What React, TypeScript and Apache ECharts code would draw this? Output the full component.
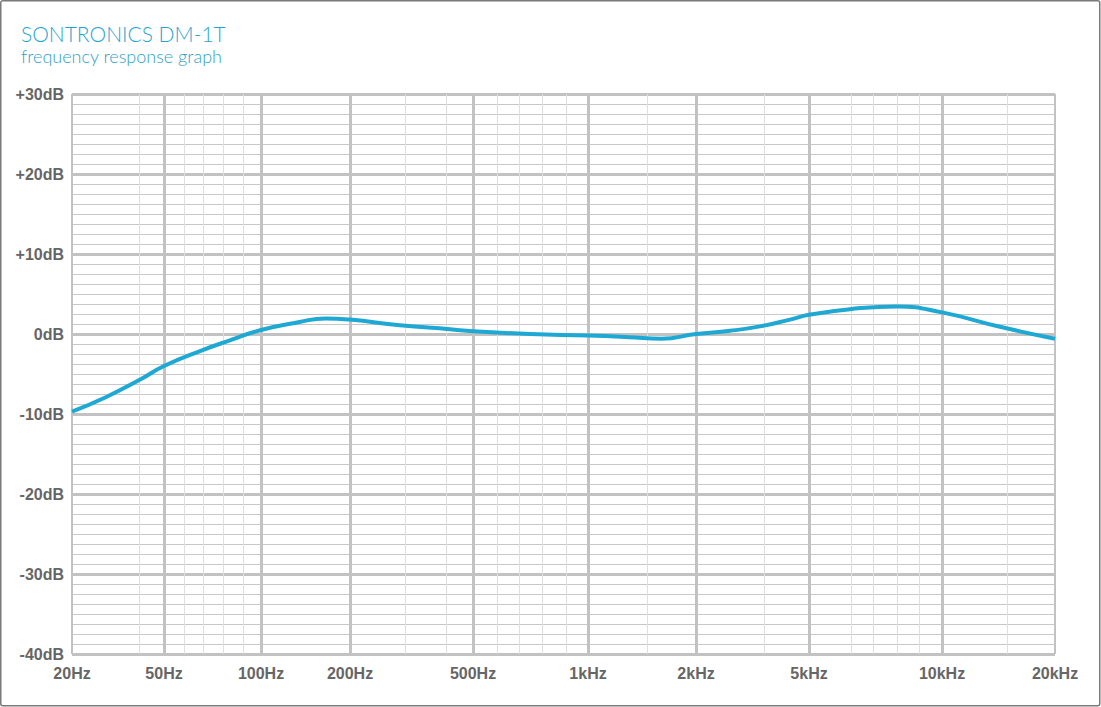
import React, { useEffect, useRef } from "react";
import * as echarts from "echarts";

// Frequency response data (Hz, dB)
const freqs = [20, 28, 40, 50, 65, 80, 100, 135, 165, 200, 290, 421, 500, 705, 1000, 1300, 1600, 2000, 2635, 3361, 4284, 5000, 6190, 7909, 10000, 14272, 20000];
const levels = [-9.7, -7.9, -5.6, -4.0, -2.1, -0.8, 0.5, 1.5, 1.95, 1.8, 1.1, 0.6, 0.35, 0.0, -0.2, -0.4, -0.6, 0.0, 0.4, 0.95, 1.8, 2.4, 3.1, 3.45, 2.7, 0.9, -0.6];

// X axis (the printed graph uses an uneven frequency scale)
const xTickFreqs = [20, 50, 100, 200, 500, 1000, 2000, 5000, 10000, 20000];
const xTickLabels = ["20Hz", "50Hz", "100Hz", "200Hz", "500Hz", "1kHz", "2kHz", "5kHz", "10kHz", "20kHz"];
const xTickPos = [0, 92, 189, 278, 401, 516, 624, 737, 870, 983];
const xMinorGridPos = [67, 112, 131, 151, 171, 333, 374, 425, 447, 470, 494, 575, 692, 779, 801, 825, 847, 935];

// Y axis
const yMin = -40;
const yMax = 30;
const yStep = 10;

const titleText = "SONTRONICS DM-1T";
const subtitleText = "frequency response graph";

function freqToPos(f: number): number {
  for (let i = 0; i < xTickFreqs.length - 1; i++) {
    const a = xTickFreqs[i];
    const b = xTickFreqs[i + 1];
    if (f <= b || i === xTickFreqs.length - 2) {
      const t = Math.log(f / a) / Math.log(b / a);
      return xTickPos[i] + t * (xTickPos[i + 1] - xTickPos[i]);
    }
  }
  return 0;
}

export default function App() {
  const ref = useRef<HTMLDivElement>(null);
  useEffect(() => {
    if (!ref.current) return;
    const chart = echarts.init(ref.current, null, { renderer: "svg" });
    const labelFont = "'Liberation Sans', Arial, Helvetica, sans-serif";
    const data = freqs.map((f, i) => [freqToPos(f), levels[i]]);
    const xMax = xTickPos[xTickPos.length - 1];

    const gridLines: any[] = [];
    xMinorGridPos.forEach((p) =>
      gridLines.push({ xAxis: p, lineStyle: { color: "#dedede", width: 1, type: "solid" } })
    );
    xTickPos.forEach((p, i) => {
      const edge = i === 0 || i === xTickPos.length - 1;
      gridLines.push({
        xAxis: p,
        lineStyle: { color: "#c2c2c2", width: edge ? 2 : 3, type: "solid" },
      });
    });

    chart.setOption({
      animation: false,
      backgroundColor: "#ffffff",
      grid: { left: 72, top: 94, width: 983, height: 560, containLabel: false },
      graphic: [
        {
          type: "rect",
          shape: { x: 0.75, y: 0.75, width: 1099, height: 705, r: 2 },
          style: { fill: "none", stroke: "#7a7a7a", lineWidth: 1.5 },
          silent: true,
        },
        {
          type: "text",
          left: 21,
          top: 23,
          style: {
            text: titleText,
            fill: "#1fa6d2",
            font: "300 21px Lato, 'Open Sans', sans-serif",
          },
        },
        {
          type: "text",
          left: 21,
          top: 47,
          style: {
            text: subtitleText,
            fill: "#2e9fc8",
            font: "300 18px Lato, 'Open Sans', sans-serif",
          },
        },
      ],
      xAxis: {
        type: "value",
        min: 0,
        max: xMax,
        axisLine: { show: false },
        axisTick: { show: false },
        splitLine: { show: false },
        axisLabel: {
          customValues: xTickPos,
          formatter: (v: number) => {
            const idx = xTickPos.findIndex((p) => Math.abs(p - v) < 0.5);
            return idx >= 0 ? xTickLabels[idx] : "";
          },
          color: "#666666",
          fontFamily: labelFont,
          fontWeight: "bold",
          fontSize: 16,
          margin: 11,
          showMinLabel: true,
          showMaxLabel: true,
        },
      },
      yAxis: {
        type: "value",
        min: yMin,
        max: yMax,
        interval: yStep,
        axisLine: { show: false },
        axisTick: { show: false },
        axisLabel: {
          formatter: (v: number) => (v > 0 ? "+" + v + "dB" : v + "dB"),
          color: "#666666",
          fontFamily: labelFont,
          fontWeight: "bold",
          fontSize: 16,
          margin: 8,
        },
        splitLine: { show: true, lineStyle: { color: "#c2c2c2", width: 3 } },
        minorTick: { show: false, splitNumber: 8 },
        minorSplitLine: { show: true, lineStyle: { color: "#c8c8c8", width: 1 } },
      },
      series: [
        {
          type: "line",
          data: [],
          silent: true,
          z: 1,
          markLine: {
            silent: true,
            symbol: ["none", "none"],
            label: { show: false },
            data: gridLines,
            animation: false,
          },
        },
        {
          type: "line",
          data,
          smooth: 0.5,
          showSymbol: false,
          symbol: "none",
          z: 5,
          lineStyle: { color: "#1ea8d4", width: 4 },
        },
      ],
    });
    return () => chart.dispose();
  }, []);
  return (
    <div
      ref={ref}
      style={{ position: "fixed", left: 0, top: 0, width: 1101, height: 707 }}
    />
  );
}
